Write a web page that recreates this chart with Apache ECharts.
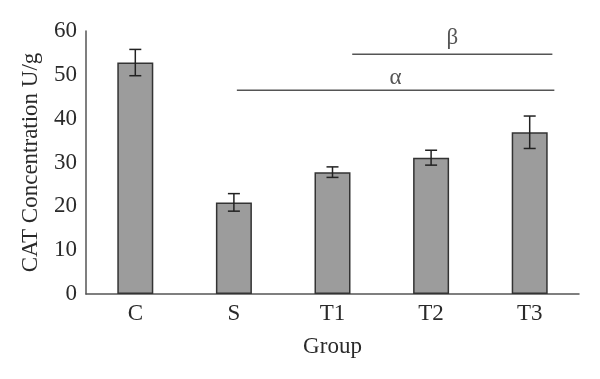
<!DOCTYPE html>
<html><head><meta charset="utf-8">
<script src="https://cdn.jsdelivr.net/npm/echarts@6/dist/echarts.min.js"></script>
<style>html,body{margin:0;padding:0;background:#fff}#c{width:600px;height:379px}</style>
</head><body><div id="c"></div>
<script>
var categories = ['C', 'S', 'T1', 'T2', 'T3'];
var means = [52.8, 20.9, 27.8, 31.1, 36.9];
var errors = [3.0, 2.0, 1.2, 1.7, 3.7];
var yTicks = [0, 10, 20, 30, 40, 50, 60];
var sigLabels = ['α', 'β'];
var sigFrom = [1.03, 2.2];
var sigTo = [4.25, 4.23];
var sigLevel = [46.5, 54.7];

var font = '"Liberation Serif", "DejaVu Serif", serif';
var axisColor = '#555555';
var textColor = '#2a2a2a';
var fs = 23;
var labelGap = [1, 4.5];
var chart = echarts.init(document.getElementById('c'));

var errData = categories.map(function (c, i) { return [i, means[i] - errors[i], means[i] + errors[i]]; });

var sigSeries = [];
sigLabels.forEach(function (lab, k) {
  sigSeries.push({
    type: 'line', xAxisIndex: 1, yAxisIndex: 0, silent: true, symbol: 'none',
    lineStyle: { color: '#555555', width: 1.5 },
    data: [[sigFrom[k], sigLevel[k]], [sigTo[k], sigLevel[k]]], z: 5
  });
  sigSeries.push({
    type: 'scatter', xAxisIndex: 1, yAxisIndex: 0, silent: true, symbolSize: 0,
    data: [[(sigFrom[k] + sigTo[k]) / 2, sigLevel[k]]],
    label: { show: true, position: 'top', distance: labelGap[k], formatter: lab, fontFamily: font, fontSize: fs, color: textColor }
  });
});

chart.setOption({
  animation: false,
  grid: { left: 86, right: 21, top: 31, bottom: 85 },
  xAxis: [{
    type: 'category', data: categories,
    name: 'Group', nameLocation: 'middle', nameGap: 41,
    nameTextStyle: { fontFamily: font, fontSize: fs, color: textColor },
    axisLine: { lineStyle: { color: axisColor, width: 1.5 } },
    axisTick: { show: false },
    axisLabel: { fontFamily: font, fontSize: fs, color: textColor, margin: 8 }
  }, {
    type: 'value', min: -0.5, max: 4.5, show: false
  }],
  yAxis: {
    type: 'value', min: 0, max: 60, interval: 10,
    name: 'CAT Concentration U/g', nameLocation: 'middle', nameGap: 44,
    nameTextStyle: { fontFamily: font, fontSize: fs, color: textColor },
    axisLine: { show: true, onZero: false, lineStyle: { color: axisColor, width: 1.5 } },
    axisTick: { show: false },
    splitLine: { show: false },
    axisLabel: { fontFamily: font, fontSize: fs, color: textColor, margin: 9,
      formatter: function (v) { return yTicks.indexOf(v) >= 0 ? String(v) : ''; } }
  },
  series: [{
    type: 'bar', data: means, barWidth: 36,
    itemStyle: { color: '#9c9c9c', borderColor: '#333333', borderWidth: 1.5 }
  }, {
    type: 'custom', data: errData, z: 10,
    renderItem: function (params, api) {
      var x = api.value(0);
      var lo = api.coord([x, api.value(1)]);
      var hi = api.coord([x, api.value(2)]);
      var hw = 6;
      var st = { stroke: '#222', lineWidth: 1.5 };
      return { type: 'group', children: [
        { type: 'line', shape: { x1: lo[0], y1: lo[1], x2: hi[0], y2: hi[1] }, style: st },
        { type: 'line', shape: { x1: hi[0] - hw, y1: hi[1], x2: hi[0] + hw, y2: hi[1] }, style: st },
        { type: 'line', shape: { x1: lo[0] - hw, y1: lo[1], x2: lo[0] + hw, y2: lo[1] }, style: st }
      ] };
    }
  }].concat(sigSeries)
});
</script></body></html>
